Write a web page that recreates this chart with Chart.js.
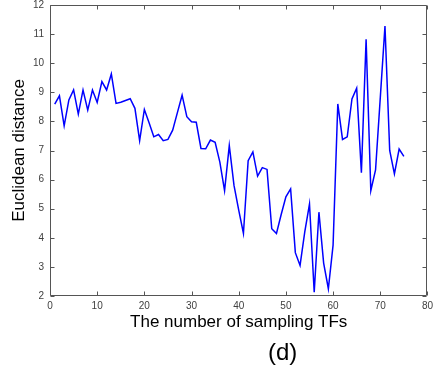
<!DOCTYPE html>
<html>
<head>
<meta charset="utf-8">
<script src="https://cdn.jsdelivr.net/npm/chart.js@4"></script>
<style>
  html, body { margin: 0; padding: 0; background: #fff; }
  #wrap { position: relative; width: 437px; height: 371px; }
  #tag { position: absolute; left: 268px; top: 338px; font: 24px "Liberation Sans", Arial, sans-serif; color: #000; }
</style>
</head>
<body>
<div id="wrap">
  <canvas id="distChart"></canvas>
  <div id="tag">(d)</div>
</div>
<script>
// Число TF-ов (ось X) и евклидово расстояние (ось Y)
const samplingTFs = [1, 2, 3, 4, 5, 6, 7, 8, 9, 10, 11, 12, 13, 14, 15, 16, 17, 18, 19, 20,
    21, 22, 23, 24, 25, 26, 27, 28, 29, 30, 31, 32, 33, 34, 35, 36, 37, 38, 39, 40,
    41, 42, 43, 44, 45, 46, 47, 48, 49, 50, 51, 52, 53, 54, 55, 56, 57, 58, 59, 60,
    61, 62, 63, 64, 65, 66, 67, 68, 69, 70, 71, 72, 73, 74, 75];
const euclidean = [8.59, 8.88, 7.85, 8.74, 9.08, 8.25, 9.08, 8.39, 9.08, 8.65,
    9.37, 9.08, 9.63, 8.62, 8.66, 8.72, 8.78, 8.45, 7.34, 8.41,
    7.95, 7.47, 7.55, 7.34, 7.38, 7.70, 8.30, 8.90, 8.16, 7.99,
    7.97, 7.07, 7.06, 7.36, 7.28, 6.60, 5.62, 7.17, 5.80, 4.95,
    4.15, 6.65, 6.95, 6.12, 6.41, 6.35, 4.31, 4.15, 4.80, 5.41,
    5.68, 3.49, 3.05, 4.20, 5.16, 2.13, 4.88, 3.13, 2.25, 3.75,
    8.60, 7.38, 7.47, 8.77, 9.14, 6.24, 10.82, 5.62, 6.33, 8.80,
    11.28, 7.00, 6.20, 7.05, 6.80];
const xTicks = [0, 10, 20, 30, 40, 50, 60, 70, 80];
const yTicks = [2, 3, 4, 5, 6, 7, 8, 9, 10, 11, 12];

const FONT = '"Liberation Sans", Arial, sans-serif';

// рамка вокруг области графика + засечки внутрь (как в MATLAB)
const boxPlugin = {
    id: 'box',
    afterDraw(chart) {
        const { ctx, chartArea: a, scales } = chart;
        ctx.save();
        ctx.strokeStyle = '#555';
        ctx.lineWidth = 1;
        ctx.beginPath();
        const L = Math.round(a.left) + 0.5, R = Math.round(a.right) - 0.5;
        const T = Math.round(a.top) + 0.5, B = Math.round(a.bottom) - 0.5;
        ctx.rect(L, T, R - L, B - T);
        xTicks.forEach(v => {
            const px = Math.round(scales.x.getPixelForValue(v)) + 0.5;
            ctx.moveTo(px, B); ctx.lineTo(px, B - 4);
            ctx.moveTo(px, T); ctx.lineTo(px, T + 4);
        });
        yTicks.forEach(v => {
            const py = Math.round(scales.y.getPixelForValue(v)) + 0.5;
            ctx.moveTo(L, py); ctx.lineTo(L + 4, py);
            ctx.moveTo(R, py); ctx.lineTo(R - 4, py);
        });
        ctx.stroke();
        ctx.restore();
    }
};

new Chart(document.getElementById('distChart'), {
    type: 'line',
    data: {
        datasets: [{
            data: samplingTFs.map((x, i) => ({ x: x, y: euclidean[i] })),
            borderColor: '#0000ff',
            borderWidth: 1.5,
            pointRadius: 0,
            tension: 0,
            fill: false
        }]
    },
    options: {
        responsive: true,
        maintainAspectRatio: false,
        animation: false,
        layout: { padding: { top: 0, right: 5, left: 0, bottom: 0 } },
        plugins: {
            legend: { display: false },
            tooltip: { enabled: false }
        },
        scales: {
            x: {
                type: 'linear',
                min: 0,
                max: 80,
                afterFit(scale) { scale.height = 75; },
                afterBuildTicks(scale) { scale.ticks = xTicks.map(v => ({ value: v })); },
                grid: { display: false, drawTicks: false },
                border: { display: false },
                ticks: { padding: 4, color: '#404040', font: { family: FONT, size: 10 } },
                title: {
                    display: true,
                    text: 'The number of sampling TFs',
                    color: '#000',
                    font: { family: FONT, size: 17 },
                    padding: { top: 0, bottom: 38 }
                }
            },
            y: {
                min: 2,
                max: 12,
                afterFit(scale) {
                    scale.width = 50;
                    // метка "12" почти у верхнего края, как в оригинале
                    scale.paddingTop = 5;
                },
                afterBuildTicks(scale) { scale.ticks = yTicks.map(v => ({ value: v })); },
                grid: { display: false, drawTicks: false },
                border: { display: false },
                ticks: { padding: 6, color: '#404040', font: { family: FONT, size: 10 } },
                title: {
                    display: true,
                    text: 'Euclidean distance',
                    color: '#000',
                    font: { family: FONT, size: 17 },
                    padding: { top: 9, bottom: 0 }
                }
            }
        }
    },
    plugins: [boxPlugin]
});
</script>
</body>
</html>
